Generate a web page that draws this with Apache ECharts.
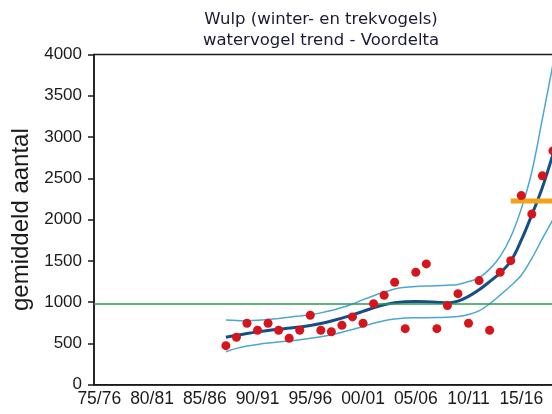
<!DOCTYPE html>
<html>
<head>
<meta charset="utf-8">
<script src="https://cdn.jsdelivr.net/npm/echarts@6/dist/echarts.min.js"></script>
<style>
  html, body { margin: 0; padding: 0; background: #ffffff; }
  #chart { width: 552px; height: 414px; }
</style>
</head>
<body>
<div id="chart"></div>
<script>
// Winter seasons on the horizontal axis
const seasons = [
  '75/76','76/77','77/78','78/79','79/80','80/81','81/82','82/83','83/84','84/85',
  '85/86','86/87','87/88','88/89','89/90','90/91','91/92','92/93','93/94','94/95',
  '95/96','96/97','97/98','98/99','99/00','00/01','01/02','02/03','03/04','04/05',
  '05/06','06/07','07/08','08/09','09/10','10/11','11/12','12/13','13/14','14/15',
  '15/16','16/17','17/18','18/19','19/20','20/21'
];

// Counted seasons: 87/88 through 18/19
const countedSeasons = [
  '87/88','88/89','89/90','90/91','91/92','92/93','93/94','94/95','95/96','96/97',
  '97/98','98/99','99/00','00/01','01/02','02/03','03/04','04/05','05/06','06/07',
  '07/08','08/09','09/10','10/11','11/12','12/13','13/14','14/15','15/16','16/17',
  '17/18','18/19'
];

// Mean number of birds per season
const meanCounts = [
  473, 575, 744, 659, 744, 659, 562, 659, 841, 659,
  642, 720, 821, 744, 982, 1084, 1241, 679, 1362, 1463,
  679, 958, 1103, 744, 1261, 659, 1362, 1503, 2291, 2067,
  2530, 2833
];

// Fitted trend and its upper / lower confidence limits
const trend = [
  575, 598, 620, 640, 657, 672, 686, 700, 718, 742,
  772, 806, 845, 888, 932, 968, 992, 1004, 1008, 1006,
  1000, 990, 1012, 1070, 1150, 1248, 1355, 1495, 1750, 2057,
  2390, 2790
];
const trendUpper = [
  784, 778, 776, 780, 790, 803, 818, 832, 848, 870,
  898, 935, 978, 1030, 1078, 1122, 1160, 1180, 1190, 1195,
  1198, 1205, 1215, 1250, 1295, 1400, 1555, 1790, 2130, 2580,
  3220, 3880
];
const trendLower = [
  400, 440, 468, 488, 505, 518, 530, 545, 562, 582,
  606, 636, 668, 705, 745, 775, 795, 808, 812, 812,
  813, 818, 825, 850, 895, 980, 1085, 1198, 1325, 1530,
  1770, 2000
];

// Reference level and target level
const referenceLevel = 985;
const targetSeasons = ['14/15','15/16','16/17','17/18','18/19','19/20','20/21'];
const targetLevel = 2225;

const yTicks = { min: 0, max: 4000, step: 500 };

const pairs = (cats, vals) => cats.map((c, i) => [c, vals[i]]);

const chart = echarts.init(document.getElementById('chart'), null, { renderer: 'canvas' });

const axisFont = 'Liberation Sans, Arial, sans-serif';

chart.setOption({
  animation: false,
  backgroundColor: '#ffffff',
  title: {
    text: 'Wulp (winter- en trekvogels)\nwatervogel trend - Voordelta',
    left: 316,
    textAlign: 'center',
    top: 4,
    textStyle: {
      fontFamily: 'DejaVu Sans, Verdana, sans-serif',
      fontSize: 16.5,
      fontWeight: 'normal',
      color: '#1a1a34',
      lineHeight: 21
    }
  },
  grid: {
    left: 94,
    top: 54.5,
    width: 485.3,
    bottom: 29.3,
    outerBoundsMode: 'none',
    show: true,
    borderColor: '#1a1a1a',
    borderWidth: 1.5,
    backgroundColor: 'transparent'
  },
  xAxis: {
    type: 'category',
    data: seasons,
    boundaryGap: true,
    axisLine: { lineStyle: { color: '#1a1a1a', width: 1.5 } },
    axisTick: { alignWithLabel: true, interval: 4, length: 6, lineStyle: { color: '#1a1a1a', width: 1.5 } },
    axisLabel: {
      interval: 4,
      margin: 5,
      fontFamily: axisFont,
      fontSize: 17.5,
      color: '#1a1a1a'
    },
    splitLine: { show: false }
  },
  yAxis: {
    type: 'value',
    min: yTicks.min,
    max: yTicks.max,
    interval: yTicks.step,
    name: 'gemiddeld aantal',
    nameLocation: 'middle',
    nameGap: 52,
    nameTextStyle: { fontFamily: axisFont, fontSize: 24, color: '#1a1a1a' },
    axisLine: { show: true, lineStyle: { color: '#1a1a1a', width: 1.5 } },
    axisTick: { show: true, length: 6, lineStyle: { color: '#1a1a1a', width: 1.5 } },
    axisLabel: {
      margin: 12,
      fontFamily: axisFont,
      fontSize: 17,
      color: '#1a1a1a',
      formatter: (v) => String(v)
    },
    splitLine: { show: false }
  },
  series: [
    {
      name: 'bovengrens',
      type: 'line',
      data: pairs(countedSeasons, trendUpper),
      smooth: 0.35,
      showSymbol: false,
      lineStyle: { color: '#4ba6d3', width: 1.5 },
      z: 2,
      markLine: {
        silent: true,
        symbol: 'none',
        label: { show: false },
        lineStyle: { color: '#2e9a4e', width: 1.5, type: 'solid' },
        data: [{ yAxis: referenceLevel }]
      }
    },
    {
      name: 'ondergrens',
      type: 'line',
      data: pairs(countedSeasons, trendLower),
      smooth: 0.35,
      showSymbol: false,
      lineStyle: { color: '#4ba6d3', width: 1.5 },
      z: 2
    },
    {
      name: 'trend',
      type: 'line',
      data: pairs(countedSeasons, trend),
      smooth: 0.35,
      showSymbol: false,
      lineStyle: { color: '#174e85', width: 3 },
      z: 3
    },
    {
      name: 'doel',
      type: 'line',
      data: pairs(targetSeasons, targetSeasons.map(() => targetLevel)),
      showSymbol: false,
      lineStyle: { color: '#f5a21b', width: 5 },
      z: 4
    },
    {
      name: 'gemiddeld aantal',
      type: 'scatter',
      data: pairs(countedSeasons, meanCounts),
      symbol: 'circle',
      symbolSize: 9,
      itemStyle: { color: '#d4151c', opacity: 1 },
      z: 5
    }
  ]
});
</script>
</body>
</html>
